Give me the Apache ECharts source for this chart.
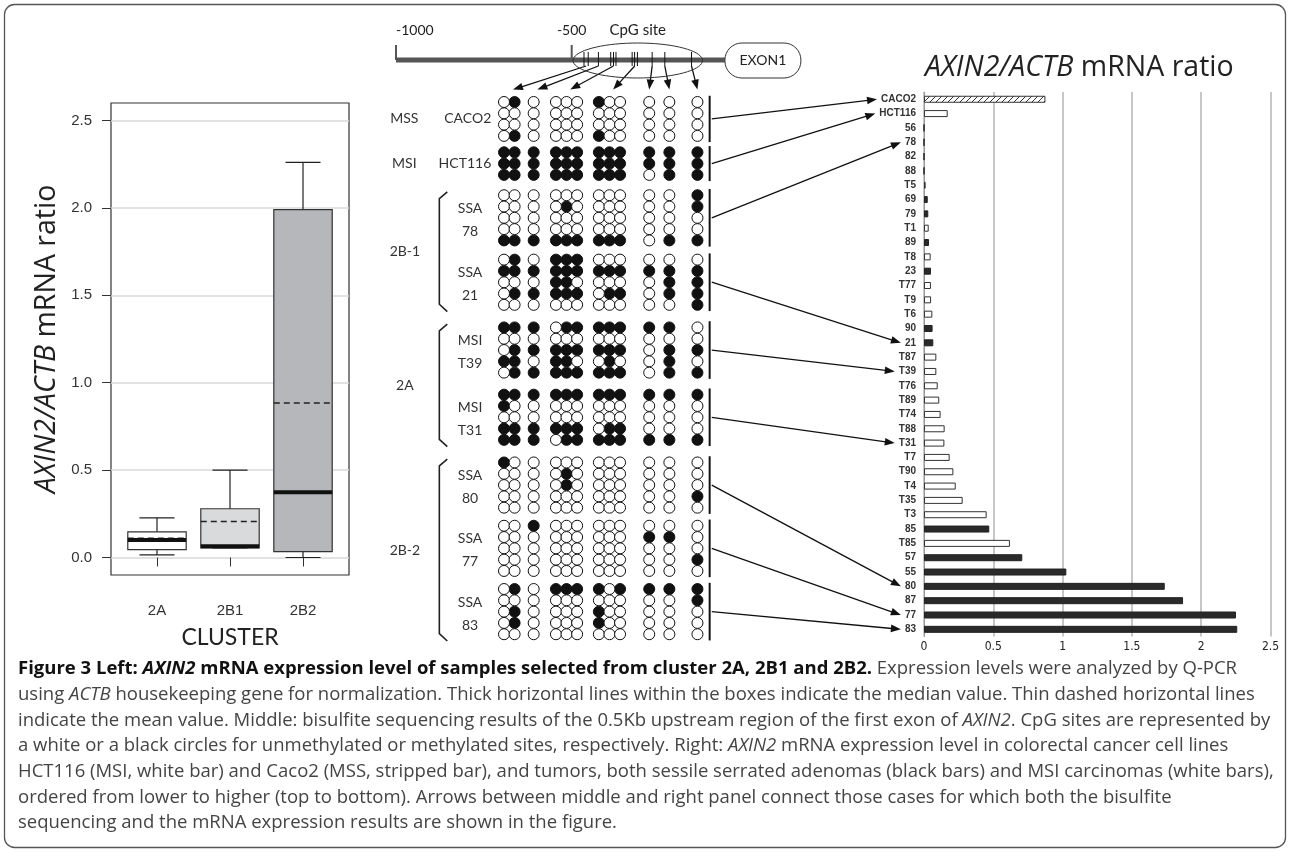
<!DOCTYPE html>
<html>
<head>
<meta charset="utf-8">
<script src="https://cdn.jsdelivr.net/npm/echarts@6/dist/echarts.min.js"></script>
<style>
  html, body { margin: 0; background: #fff; }
  #main { width: 1290px; height: 852px; }
</style>
</head>
<body>
<div id="main"></div>
<script>
// ---- box plot (left) ----
const clusters = ['2A', '2B1', '2B2'];
const boxMin = [0.015, 0.055, 0.0];
const boxQ1 = [0.045, 0.055, 0.034];
const boxMedian = [0.10, 0.065, 0.374];
const boxQ3 = [0.147, 0.279, 1.99];
const boxMax = [0.227, 0.50, 2.26];
const boxMean = [0.11, 0.206, 0.884];
const boxTicks = [0, 0.5, 1, 1.5, 2, 2.5];

// ---- mRNA ratio bars (right) ----
const barNames = ['CACO2', 'HCT116', '56', '78', '82', '88', 'T5', '69', '79', 'T1', '89', 'T8', '23', 'T77', 'T9',
  'T6', '90', '21', 'T87', 'T39', 'T76', 'T89', 'T74', 'T88', 'T31', 'T7', 'T90', 'T4', 'T35', 'T3', '85', 'T85',
  '57', '55', '80', '87', '77', '83'];
const barValues = [0.876, 0.171, 0, 0, 0, 0, 0.012, 0.027, 0.031, 0.034, 0.036, 0.048, 0.05, 0.05, 0.051,
  0.06, 0.062, 0.067, 0.089, 0.089, 0.099, 0.11, 0.12, 0.149, 0.147, 0.185, 0.212, 0.229, 0.279, 0.452, 0.471, 0.62,
  0.709, 1.027, 1.737, 1.869, 2.251, 2.26];
const barKind = ['MSS', 'MSI', 'SSA', 'SSA', 'SSA', 'SSA', 'MSI', 'SSA', 'SSA', 'MSI', 'SSA', 'MSI', 'SSA', 'MSI', 'MSI',
  'MSI', 'SSA', 'SSA', 'MSI', 'MSI', 'MSI', 'MSI', 'MSI', 'MSI', 'MSI', 'MSI', 'MSI', 'MSI', 'MSI', 'MSI', 'SSA', 'MSI',
  'SSA', 'SSA', 'SSA', 'SSA', 'SSA', 'SSA'];

// ---- promoter / CpG sites (bp from exon 1) ----
const promoterTicks = [-1000, -500];
const exonStart = -64;
const cpgSites = [-465, -453, -424, -389, -381, -374, -328, -321, -313, -271, -235, -159];
const cpgGroups = [[0, 1], [2], [3, 4, 5], [6, 7, 8], [9], [10], [11]];

// ---- bisulfite sequencing (1 = methylated) ----
const samples = ['CACO2', 'HCT116', '78', '21', 'T39', 'T31', '80', '77', '83'];
const sampleType = ['MSS', 'MSI', 'SSA', 'SSA', 'MSI', 'MSI', 'SSA', 'SSA', 'SSA'];
const sampleCluster = ['', '', '2B-1', '2B-1', '2A', '2A', '2B-2', '2B-2', '2B-2'];
const samplePattern = [
  ['010000100000', '000000000000', '000000000000', '010000100000'],
  ['111111111111', '111111111111', '111111111011'],
  ['000000000001', '000010000001', '000000000000', '000000000000', '111111111011'],
  ['010111000000', '111111111111', '000110000011', '011111011011', '000000000001'],
  ['111011111110', '000000000000', '011111111011', '110110010010', '011111111011'],
  ['111111111111', '100000000000', '000000000000', '111111011000', '111011111111'],
  ['100000000000', '000010000000', '000010000000', '000000000001', '000000000000'],
  ['001000000000', '000000000110', '000000000000', '000000000001', '000000000000'],
  ['010111101111', '000000000001', '010000100000', '010000100000', '000000000000']
];

// layout of the circle grid (in circle pitch units)
const colX = [0, 1, 2.8, 4.9, 5.9, 6.9, 8.95, 9.95, 10.95, 13.7, 15.6, 18.25];
const blockGap = [0.45, 0.8, 0.7, 1.0, 0.95, 1.0, 0.6, 0.6];
const rowStart = [];
samplePattern.forEach((p, i) => {
  rowStart.push(i === 0 ? 0 : rowStart[i - 1] + samplePattern[i - 1].length + blockGap[i - 1]);
});

const FONT = 'Lato, "Open Sans", sans-serif';
const WIDE = '"Open Sans", Lato, sans-serif';
const INK = '#222';

// methylation points
const methOn = [], methOff = [];
samplePattern.forEach((rows, i) => {
  rows.forEach((row, r) => {
    row.split('').forEach((ch, c) => {
      (ch === '1' ? methOn : methOff).push([colX[c], rowStart[i] + r]);
    });
  });
});

// hatch for the striped bar
const hatch = document.createElement('canvas');
hatch.width = 6; hatch.height = 6;
(function () {
  const g = hatch.getContext('2d');
  g.fillStyle = '#fff'; g.fillRect(0, 0, 6, 6);
  g.strokeStyle = '#333'; g.lineWidth = 1;
  g.beginPath(); g.moveTo(-1, 7); g.lineTo(7, -1); g.stroke();
})();

function barStyle(kind) {
  if (kind === 'SSA') return { color: '#2a2a2a', borderColor: '#222', borderWidth: 1 };
  if (kind === 'MSS') return { color: { image: hatch, repeat: 'repeat' }, borderColor: '#333', borderWidth: 1 };
  return { color: '#fff', borderColor: '#333', borderWidth: 1 };
}

const boxFill = ['#ffffff', '#d9dadc', '#b6b7ba'];

function renderBox(params, api) {
  const i = api.value(0);
  const hw = 0.4, cw = 0.24;
  const p = (x, y) => api.coord([x, y]);
  const lo = p(i - hw, api.value(2)), hi = p(i + hw, api.value(4));
  const top = p(i, api.value(5)), bot = p(i, api.value(1));
  const med = api.value(3), mean = api.value(6);
  const k = params.dataIndex;
  const line = (a, b, st) => ({ type: 'line', shape: { x1: a[0], y1: a[1], x2: b[0], y2: b[1] }, style: st });
  const thin = { stroke: INK, lineWidth: 1.2 };
  return {
    type: 'group',
    children: [
      line(top, [top[0], hi[1]], thin),
      line(p(i - cw, api.value(5)), p(i + cw, api.value(5)), thin),
      line(bot, [bot[0], lo[1]], thin),
      line(p(i - cw, api.value(1)), p(i + cw, api.value(1)), thin),
      { type: 'rect', shape: { x: lo[0], y: hi[1], width: hi[0] - lo[0], height: lo[1] - hi[1] },
        style: { fill: boxFill[k], stroke: '#333', lineWidth: 1.2 } },
      line(p(i - hw, mean), p(i + hw, mean), { stroke: INK, lineWidth: 1.5, lineDash: [6, 4] }),
      line(p(i - hw, med), p(i + hw, med), { stroke: '#111', lineWidth: 4 })
    ]
  };
}

function renderPromoter(params, api) {
  const c = (bp) => api.coord([bp, 0]);
  const y0 = c(0)[1];
  const kids = [];
  const a = c(promoterTicks[0]), e = c(exonStart);
  kids.push({ type: 'line', shape: { x1: a[0], y1: y0, x2: e[0], y2: y0 }, style: { stroke: '#555', lineWidth: 5 } });
  promoterTicks.forEach((t, k) => {
    const p = c(t);
    kids.push({ type: 'line', shape: { x1: p[0], y1: y0 - 15, x2: p[0], y2: y0 }, style: { stroke: '#555', lineWidth: 2 } });
    kids.push({ type: 'text', x: p[0], y: y0 - 30,
      style: { text: String(t), fill: INK, font: '14px ' + FONT, align: k === 0 ? 'left' : 'center', verticalAlign: 'middle' } });
  });
  cpgSites.forEach(s => {
    const p = c(s);
    kids.push({ type: 'line', shape: { x1: p[0], y1: y0 - 8, x2: p[0], y2: y0 + 6 }, style: { stroke: '#111', lineWidth: 1 } });
  });
  const s0 = c(cpgSites[0])[0], s1 = c(cpgSites[cpgSites.length - 1])[0];
  const cx = (s0 + s1) / 2, rx = (s1 - s0) / 2 + 11, ry = 17.5;
  const pts = [];
  for (let k = 0; k <= 72; k++) {
    const t = k / 72 * Math.PI * 2;
    pts.push([cx + rx * Math.cos(t), y0 + 0.5 + ry * Math.sin(t)]);
  }
  kids.push({ type: 'polyline', shape: { points: pts }, style: { stroke: '#333', lineWidth: 1, fill: null } });
  kids.push({ type: 'text', x: cx, y: y0 - 30,
    style: { text: 'CpG site', fill: INK, font: '15px ' + FONT, align: 'center', verticalAlign: 'middle' } });
  kids.push({ type: 'rect', shape: { x: e[0], y: y0 - 17, width: 76, height: 35, r: 17 },
    style: { fill: '#fff', stroke: '#333', lineWidth: 1 } });
  kids.push({ type: 'text', x: e[0] + 38, y: y0 + 0.5,
    style: { text: 'EXON1', fill: INK, font: '14px ' + FONT, align: 'center', verticalAlign: 'middle' } });
  return { type: 'group', children: kids };
}

function renderSample(params, api) {
  const i = api.value(0);
  const n = samplePattern[i].length, r0 = rowStart[i];
  const c = (u, r) => api.coord([u, r]);
  const t1 = c(19.4, r0 - 0.55), t2 = c(19.4, r0 + n - 0.45);
  const kids = [{ type: 'line', shape: { x1: t1[0], y1: t1[1], x2: t2[0], y2: t2[1] }, style: { stroke: '#111', lineWidth: 2 } }];
  const txt = (p, s, al) => ({ type: 'text', x: p[0], y: p[1],
    style: { text: s, fill: '#333', font: '14px ' + FONT, align: al, verticalAlign: 'middle' } });
  if (!sampleCluster[i]) {
    const mid = r0 + (n - 1) / 2;
    kids.push(txt(c(-1.2, mid), samples[i], 'right'));
    kids.push(txt(c(-9.4, mid), sampleType[i], 'center'));
  } else {
    kids.push(txt(c(-3.2, r0 + 1.15), sampleType[i], 'center'));
    kids.push(txt(c(-3.2, r0 + 3.2), samples[i], 'center'));
  }
  return { type: 'group', children: kids };
}

const clusterNames = ['2B-1', '2A', '2B-2'];
function renderCluster(params, api) {
  const name = clusterNames[api.value(0)];
  const idx = samples.map((s, i) => i).filter(i => sampleCluster[i] === name);
  const first = rowStart[idx[0]];
  const lastIdx = idx[idx.length - 1];
  const last = rowStart[lastIdx] + samplePattern[lastIdx].length - 1;
  const c = (u, r) => api.coord([u, r]);
  const pts = [c(-5.35, first - 0.3), c(-6.1, first + 0.3), c(-6.1, last - 0.05), c(-5.35, last + 0.6)];
  const m = c(-9.35, (first - 0.3 + last + 0.6) / 2);
  return { type: 'group', children: [
    { type: 'polyline', shape: { points: pts }, style: { stroke: '#222', lineWidth: 1.6, fill: null } },
    { type: 'text', x: m[0], y: m[1], style: { text: name, fill: '#333', font: '14px ' + FONT, align: 'center', verticalAlign: 'middle' } }
  ] };
}

const TITLE = 28.5;
const chart = echarts.init(document.getElementById('main'));
chart.setOption({
  animation: false,
  backgroundColor: '#fff',
  title: {
    text: '{i|AXIN2/ACTB} mRNA ratio',
    left: 920, top: 48,
    textStyle: { fontSize: TITLE, fontWeight: 'normal', fontFamily: WIDE, color: INK,
      rich: { i: { fontSize: TITLE, fontStyle: 'italic', fontFamily: WIDE, color: INK } } }
  },
  grid: [
    { left: 111, top: 103, width: 238, height: 472, show: true, borderColor: '#333', borderWidth: 1.2, backgroundColor: 'transparent' },
    { left: 924, top: 92.1, width: 346.5, height: 544.4 },
    { left: 396, top: 40, width: 351.4, height: 40 },
    { left: 398, top: 11.6, width: 424, height: 655.4 }
  ],
  xAxis: [
    { gridIndex: 0, type: 'value', min: 0.37, max: 3.63,
      axisLine: { show: false }, splitLine: { show: false },
      axisTick: { show: true, customValues: [1, 2, 3], length: 9, lineStyle: { color: '#333' } },
      axisLabel: { customValues: [1, 2, 3], formatter: v => clusters[Math.round(v) - 1], margin: 28,
        fontSize: 15, fontFamily: '"Liberation Sans", Arial, sans-serif', color: '#333' },
      name: 'CLUSTER', nameLocation: 'middle', nameGap: 51,
      nameTextStyle: { fontSize: 23, fontFamily: FONT, color: INK } },
    { gridIndex: 1, type: 'value', min: 0, max: 2.5, interval: 0.5,
      axisLine: { show: false }, axisTick: { show: false },
      splitLine: { show: true, lineStyle: { color: '#b5b5b5', width: 1.5 } },
      axisLabel: { margin: 4, fontSize: 12, color: INK,
        fontFamily: '"Liberation Sans Narrow", "DejaVu Sans Condensed", sans-serif' } },
    { gridIndex: 2, type: 'value', min: -1000, max: 0, show: false },
    { gridIndex: 3, type: 'value', min: -10, max: 30, show: false }
  ],
  yAxis: [
    { gridIndex: 0, type: 'value', min: -0.1, max: 2.6, splitNumber: 5,
      axisLine: { show: false },
      axisTick: { show: true, customValues: boxTicks, length: 9, lineStyle: { color: '#333' } },
      axisLabel: { customValues: boxTicks, formatter: v => v.toFixed(1), margin: 19,
        fontSize: 15, fontFamily: '"Liberation Sans", Arial, sans-serif', color: '#333' },
      splitLine: { show: true, lineStyle: { color: '#d9d9d9', width: 1.5 } },
      name: '{i|AXIN2/ACTB} mRNA ratio', nameLocation: 'middle', nameGap: 50,
      nameTextStyle: { fontSize: TITLE, fontFamily: WIDE, color: INK,
        rich: { i: { fontSize: TITLE, fontStyle: 'italic', fontFamily: WIDE, color: INK } } } },
    { gridIndex: 1, type: 'category', inverse: true, data: barNames,
      axisLine: { lineStyle: { color: '#999' } },
      axisTick: { length: 4, lineStyle: { color: '#999' } },
      axisLabel: { interval: 0, margin: 8, fontSize: 10, fontWeight: 'bold', color: '#333',
        fontFamily: '"Liberation Sans", Arial, sans-serif' } },
    { gridIndex: 2, type: 'value', min: -1, max: 1, show: false },
    { gridIndex: 3, type: 'value', min: -8, max: 50, inverse: true, show: false }
  ],
  series: [
    { type: 'custom', name: 'box', xAxisIndex: 0, yAxisIndex: 0, renderItem: renderBox, silent: true,
      encode: { x: 0, y: [1, 2, 3, 4, 5] },
      data: clusters.map((c, i) => [i + 1, boxMin[i], boxQ1[i], boxMedian[i], boxQ3[i], boxMax[i], boxMean[i]]) },
    { type: 'bar', name: 'ratio', xAxisIndex: 1, yAxisIndex: 1, barWidth: 7, silent: true,
      data: barValues.map((v, i) => ({ value: v, itemStyle: barStyle(barKind[i]) })) },
    { type: 'custom', name: 'promoter', xAxisIndex: 2, yAxisIndex: 2, renderItem: renderPromoter, silent: true,
      data: [[0, 0]] },
    { type: 'scatter', name: 'methylated', xAxisIndex: 3, yAxisIndex: 3, symbol: 'circle', symbolSize: 11, silent: true,
      itemStyle: { color: '#111', borderColor: '#111', borderWidth: 1, opacity: 1 }, data: methOn },
    { type: 'scatter', name: 'unmethylated', xAxisIndex: 3, yAxisIndex: 3, symbol: 'circle', symbolSize: 11, silent: true,
      itemStyle: { color: '#fff', borderColor: '#111', borderWidth: 1, opacity: 1 }, data: methOff },
    { type: 'custom', name: 'samples', xAxisIndex: 3, yAxisIndex: 3, renderItem: renderSample, silent: true,
      data: samples.map((s, i) => [i, rowStart[i]]) },
    { type: 'custom', name: 'clusters', xAxisIndex: 3, yAxisIndex: 3, renderItem: renderCluster, silent: true,
      data: clusterNames.map((c, i) => [i, 0]) }
  ]
});

// connector arrows and caption, placed with the library's own coordinate conversion
function arrow(x1, y1, x2, y2) {
  const a = Math.atan2(y2 - y1, x2 - x1), co = Math.cos(a), si = Math.sin(a);
  const head = 10, hw = 3.8;
  const bx = x2 - head * co, by = y2 - head * si;
  return [
    { type: 'line', silent: true, shape: { x1: x1, y1: y1, x2: bx + co, y2: by + si }, style: { stroke: '#111', lineWidth: 1.3 } },
    { type: 'polygon', silent: true, shape: { points: [[x2, y2], [bx - hw * si, by + hw * co], [bx + hw * si, by - hw * co]] },
      style: { fill: '#111' } }
  ];
}

const measure = document.createElement('canvas').getContext('2d');
measure.font = 'bold 10px "Liberation Sans", Arial, sans-serif';

const gfx = [];
gfx.push({ type: 'rect', silent: true, shape: { x: 4.5, y: 4.5, width: 1281, height: 843, r: 10 },
  style: { fill: null, stroke: '#555', lineWidth: 1.3 }, z: 10 });

cpgGroups.forEach(g => {
  const bp = g.reduce((s, k) => s + cpgSites[k], 0) / g.length;
  const u = g.reduce((s, k) => s + colX[k], 0) / g.length;
  const p0 = chart.convertToPixel({ gridIndex: 2 }, [bp, 0]);
  const p1 = chart.convertToPixel({ gridIndex: 3 }, [u + (g.length > 1 || g[0] === 2 ? 0.35 : 0), -1.1]);
  gfx.push(...arrow(p0[0], p0[1] + 6, p1[0], p1[1]));
});

samples.forEach((s, i) => {
  const n = samplePattern[i].length;
  const p0 = chart.convertToPixel({ gridIndex: 3 }, [19.6, rowStart[i] + (n - 1) / 2]);
  const k = barNames.indexOf(s);
  const pt = chart.convertToPixel({ gridIndex: 1 }, [0, k]);
  const tx = pt[0] - 8 - measure.measureText(s).width - 4;
  gfx.push(...arrow(p0[0], p0[1], tx, pt[1]));
});

const CAP = 18.5;
const capFont = { fontSize: CAP, fontFamily: WIDE, fill: '#444' };
const capRich = {
  b: { fontSize: CAP, fontFamily: WIDE, fontWeight: 'bold', fill: '#111' },
  bi: { fontSize: CAP, fontFamily: WIDE, fontWeight: 'bold', fontStyle: 'italic', fill: '#111' },
  i: { fontSize: CAP, fontFamily: WIDE, fontStyle: 'italic', fill: '#444' }
};
const captionLines = [
  '{b|Figure 3 Left: }{bi|AXIN2}{b| mRNA expression level of samples selected from cluster 2A, 2B1 and 2B2.} Expression levels were analyzed by Q-PCR',
  'using {i|ACTB} housekeeping gene for normalization. Thick horizontal lines within the boxes indicate the median value. Thin dashed horizontal lines',
  'indicate the mean value. Middle: bisulfite sequencing results of the 0.5Kb upstream region of the first exon of {i|AXIN2}. CpG sites are represented by',
  'a white or a black circles for unmethylated or methylated sites, respectively. Right: {i|AXIN2} mRNA expression level in colorectal cancer cell lines',
  'HCT116 (MSI, white bar) and Caco2 (MSS, stripped bar), and tumors, both sessile serrated adenomas (black bars) and MSI carcinomas (white bars),',
  'ordered from lower to higher (top to bottom). Arrows between middle and right panel connect those cases for which both the bisulfite',
  'sequencing and the mRNA expression results are shown in the figure.'
];
captionLines.forEach((t, k) => {
  gfx.push({ type: 'text', silent: true, x: 18, y: 669 + k * 25.7,
    style: Object.assign({ text: t, rich: capRich, verticalAlign: 'middle', align: 'left' }, capFont) });
});

chart.setOption({ graphic: gfx });
</script>
</body>
</html>
